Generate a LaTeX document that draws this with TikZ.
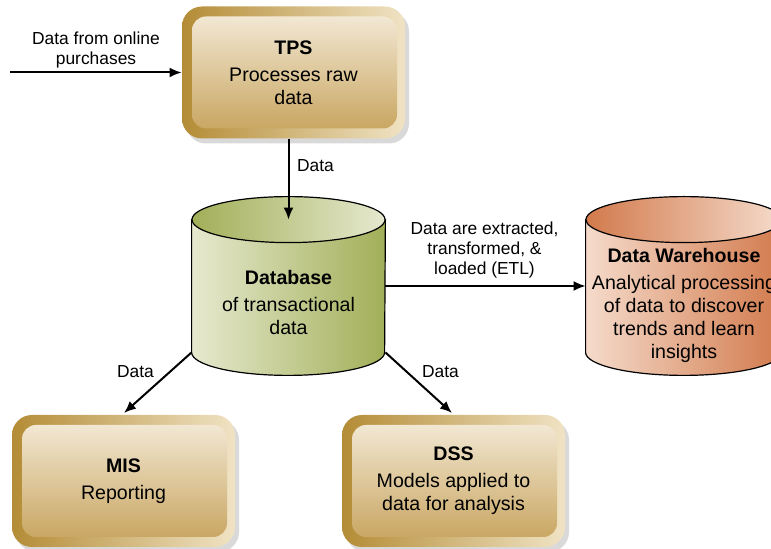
\documentclass[tikz,border=0pt]{standalone}
\usepackage{fontspec}
\setmainfont{Liberation Sans}
\usetikzlibrary{arrows.meta,shadows}

\definecolor{goldDark}{HTML}{B48C36}
\definecolor{goldLight}{HTML}{F0E3C4}
\definecolor{panelTop}{HTML}{F5EDDC}
\definecolor{panelBot}{HTML}{C6A159}
\definecolor{dbGreen}{HTML}{A2AF58}
\definecolor{dbLight}{HTML}{E6E9CF}
\definecolor{dwOrange}{HTML}{D27A4C}
\definecolor{dwLight}{HTML}{F5DBCB}

\tikzset{
  sysbox/.style={rounded corners=10pt, minimum width=111.5pt, minimum height=66pt,
    left color=goldDark, right color=goldLight,
    drop shadow={shadow xshift=2pt, shadow yshift=-2.5pt, opacity=0.3},
    path picture={\shade[rounded corners=7pt, top color=panelTop, bottom color=panelBot]
      ([shift={(5pt,5pt)}]path picture bounding box.south west) rectangle
      ([shift={(-4pt,-5pt)}]path picture bounding box.north east);},
    align=center, font=\fontsize{9.8}{11.5}\selectfont},
  drum/.style={minimum width=#1, minimum height=66pt, inner sep=0pt},
  inside/.style={align=center, font=\fontsize{9.8}{11.5}\selectfont},
  flow/.style={line width=1pt, -{Latex[length=6pt,width=5pt]}},
  lbl/.style={align=center, font=\fontsize{8.7}{10}\selectfont, inner sep=0pt},
}

\begin{document}
\begin{tikzpicture}[x=0.5pt, y=-0.5pt]
  \useasboundingbox (0,0) rectangle (771,549);

  % systems
  \node[sysbox] (tps) at (293.5,72.5) {\textbf{TPS}\\[2pt]Processes raw\\data};
  \node[sysbox] (mis) at (123.5,481) {\textbf{MIS}\\[2pt]Reporting};
  \node[sysbox] (dss) at (453.5,481) {\textbf{DSS}\\[2pt]Models applied to\\data for analysis};

  % stores
  \node[drum=96.5pt] (db) at (288.5,286) {};
  \shade[left color=dbLight, right color=dbGreen, draw, line width=0.6pt]
    (db.north west) -- (db.south west)
    arc[start angle=180, end angle=360, x radius=48.25pt, y radius=11.5pt]
    -- (db.north east) -- cycle;
  \shade[left color=dbGreen, right color=dbLight, draw, line width=0.6pt]
    (db.north) ellipse[x radius=48.25pt, y radius=11.5pt];
  \node[inside] (dbtxt) at (288.5,302) {\textbf{Database}\\[2pt]of transactional\\data};

  \node[drum=98pt] (dw) at (684,286) {};
  \shade[left color=dwLight, right color=dwOrange, draw, line width=0.6pt]
    (dw.north west) -- (dw.south west)
    arc[start angle=180, end angle=360, x radius=49pt, y radius=11.5pt]
    -- (dw.north east) -- cycle;
  \shade[left color=dwOrange, right color=dwLight, draw, line width=0.6pt]
    (dw.north) ellipse[x radius=49pt, y radius=11.5pt];
  \node[inside] (dwtxt) at (684,305) {\textbf{Data Warehouse}\\[2pt]Analytical processing\\of data to discover\\trends and learn\\insights};

  % flows
  \coordinate (src) at (10,72.5);
  \draw[flow] (src) -- (tps.west);
  \draw[flow] (db.north |- tps.south) -- (db.north);
  \draw[flow] (db.east) -- (dw.west);
  \draw[flow] (db.south west) -- (124,413);
  \draw[flow] (db.south east) -- (452,413);

  % labels
  \node[lbl] (lsrc) at (96,50) {Data from online\\purchases};
  \node[lbl] (ltps) at (315.5,166) {Data};
  \node[lbl] (letl) at (484.5,250) {Data are extracted,\\transformed, \&\\loaded (ETL)};
  \node[lbl] (lmis) at (135.5,372) {Data};
  \node[lbl] (ldss) at (440.5,372) {Data};
\end{tikzpicture}
\end{document}
